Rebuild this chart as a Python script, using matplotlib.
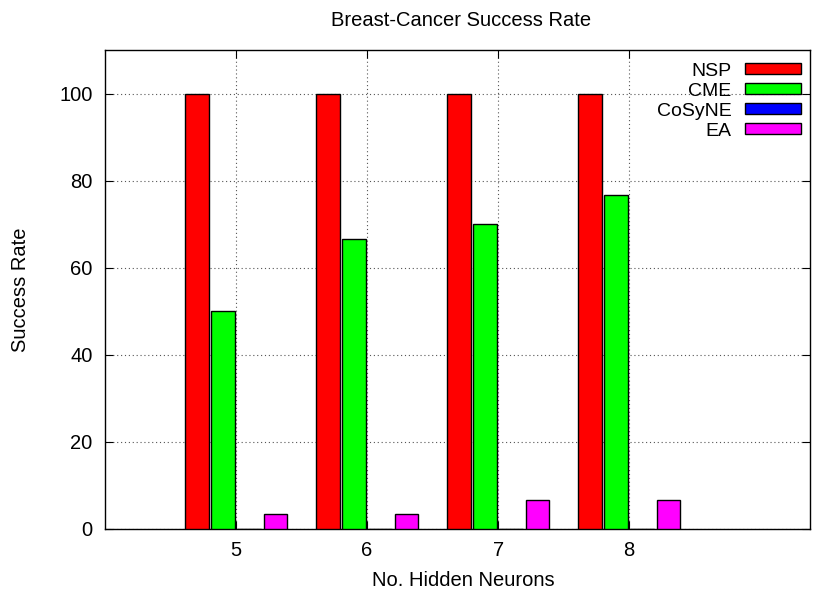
import numpy as np
import matplotlib.pyplot as plt

plt.rcParams['font.family'] = ['Liberation Sans', 'DejaVu Sans']

# data
neurons = ['5', '6', '7', '8']
series_names = ['NSP', 'CME', 'CoSyNE', 'EA']
nsp = [100, 100, 100, 100]
cme = [50, 66.67, 70, 76.67]
cosyne = [0, 0, 0, 0]
ea = [3.33, 3.33, 6.67, 6.67]
colors = ['#ff0000', '#00ff00', '#0000ff', '#ff00ff']

fs = 14.5

fig = plt.figure(figsize=(8.18, 5.92), dpi=100)
ax = fig.add_axes([105 / 818, 1 - 529 / 592, 705 / 818, 479 / 592])

x = np.arange(len(neurons))
offsets = [-0.3, -0.1, 0.1, 0.3]
for vals, off, col, name in zip([nsp, cme, cosyne, ea], offsets, colors, series_names):
    ax.bar(x + off, vals, width=0.18, color=col, edgecolor='black', linewidth=1.0,
           label=name, zorder=3)

ax.set_xlim(-1, 4.38)
ax.set_ylim(0, 110)
ax.set_xticks(x)
ax.set_xticklabels(neurons)
ax.set_yticks([0, 20, 40, 60, 80, 100])
ax.tick_params(direction='in', length=6, top=True, right=True, labelsize=fs)
ax.tick_params(axis='x', pad=9)
ax.tick_params(axis='y', pad=9)
ax.grid(True, color='#555555', linestyle=(0, (1, 2.5)), linewidth=0.8, zorder=0)
for s in ax.spines.values():
    s.set_linewidth(1.0)

ax.set_xlabel('No. Hidden Neurons', fontsize=fs)
ax.xaxis.set_label_coords(0.5 + 6 / 705, (529 - 571) / 479)
ax.set_ylabel('Success Rate', fontsize=fs)
ax.yaxis.set_label_coords((30 - 105) / 705, 0.5)
fig.text(461 / 818, 1 - 20 / 592, 'Breast-Cancer Success Rate', ha='center', va='center', fontsize=fs)

leg = ax.legend(loc='upper right', bbox_to_anchor=(1, 1 - 4 / 479), markerfirst=False,
                frameon=False, fontsize=14,
                handlelength=2.9, handleheight=0.5, labelspacing=0.15,
                borderaxespad=0.25, borderpad=0.2, handletextpad=0.7)
for t in leg.get_texts():
    t.set_ha('right')

fig.savefig('out.png', dpi=100)
